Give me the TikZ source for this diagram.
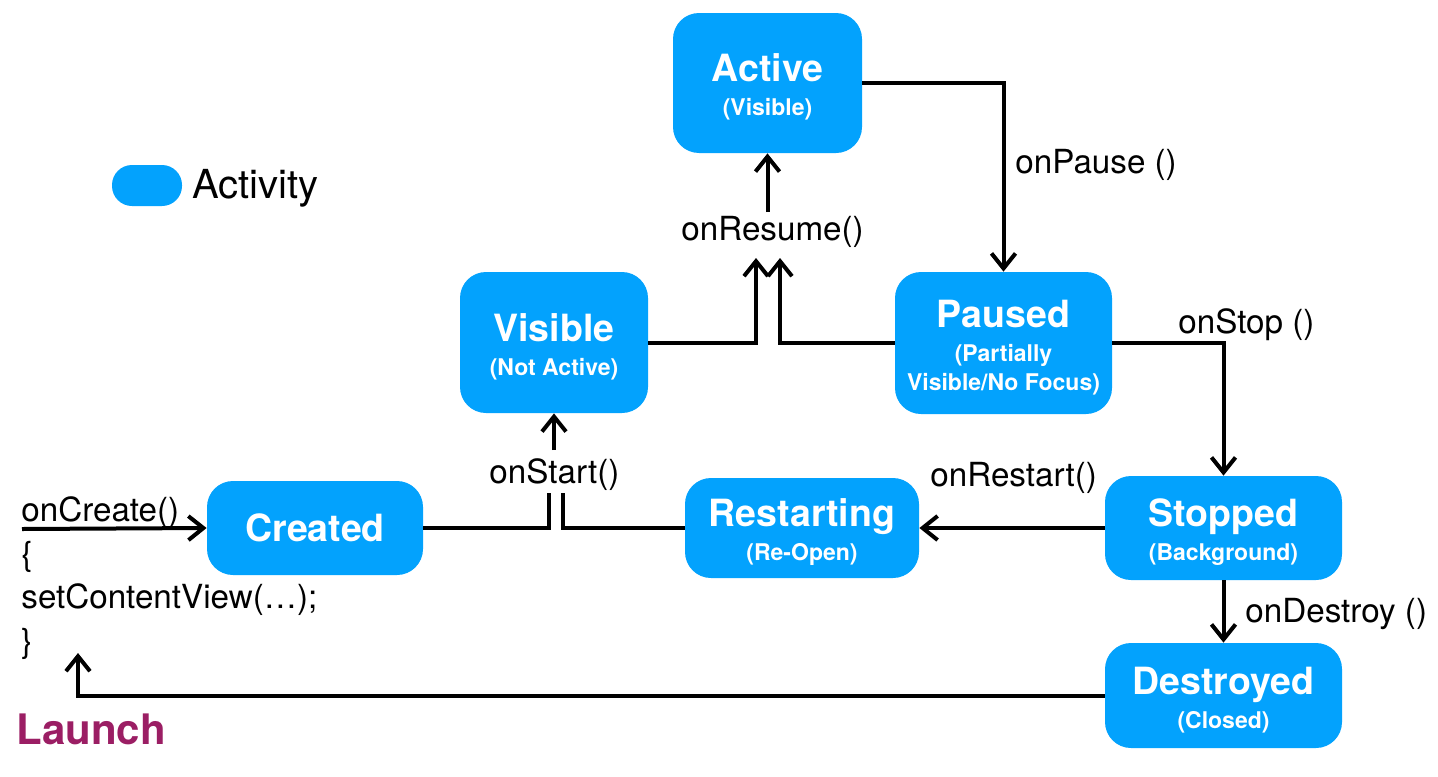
\documentclass[tikz,border=0pt]{standalone}
\usepackage{fontspec}
\setmainfont{TeX Gyre Heros}
\usetikzlibrary{arrows.meta}
\definecolor{actblue}{RGB}{3,162,253}
\definecolor{launchpurple}{RGB}{155,30,100}
\newcommand{\ttlfont}{\fontsize{18.75}{20}\selectfont\bfseries\rule{0pt}{18pt}}
\newcommand{\subfnt}{\fontsize{11.5}{14.5}\selectfont\bfseries}
\tikzset{
  statebox/.style={fill=actblue, rounded corners=13pt, inner sep=0pt, text=white,
    align=center, font=\subfnt},
  lbl/.style={anchor=base west, inner sep=0pt, font=\fontsize{16.6}{18}\selectfont},
  arr/.style={line width=2pt, -{Straight Barb[length=7.5pt,width=12pt,line width=2pt]}},
  ln/.style={line width=2pt},
}
\begin{document}
\begin{tikzpicture}[x=0.5pt,y=-0.5pt]
\useasboundingbox (0,0) rectangle (1438,776);
% states
\node[statebox, minimum width=94.5pt, minimum height=70pt] (active) at (767.5,83)
  {{\ttlfont Active}\\[2.5pt](Visible)};
\node[statebox, minimum width=94pt, minimum height=70.5pt] (visible) at (554,342.5)
  {{\ttlfont Visible}\\[2.5pt](Not Active)};
\node[statebox, minimum width=108.5pt, minimum height=71pt] (paused) at (1003.5,343)
  {{\ttlfont Paused}\\[2.5pt](Partially\\Visible/No Focus)};
\node[statebox, minimum width=108pt, minimum height=47pt, font=\fontsize{18.75}{20}\selectfont\bfseries] (created) at (315,528)
  {Created};
\node[statebox, minimum width=117pt, minimum height=50pt] (restarting) at (802,528)
  {{\ttlfont Restarting}\\[2.5pt](Re-Open)};
\node[statebox, minimum width=118.5pt, minimum height=52pt] (stopped) at (1223.5,528)
  {{\ttlfont Stopped}\\[2.5pt](Background)};
\node[statebox, minimum width=118.5pt, minimum height=52.5pt] (destroyed) at (1223.5,695.5)
  {{\ttlfont Destroyed}\\[2.5pt](Closed)};
% legend
\node[fill=actblue, rounded corners=10pt, minimum width=35pt, minimum height=20.5pt, inner sep=0pt] (legend) at (147,185.5) {};
\node[anchor=base west, inner sep=0pt, font=\fontsize{20}{22}\selectfont] (legendtext) at (192,198) {Activity};
% labels
\node[lbl] (lpause) at (1015,173) {onPause ()};
\node[lbl] (lresume) at (681,240) {onResume()};
\node[lbl] (lstop) at (1178,333) {onStop ()};
\node[lbl] (lstart) at (489,483) {onStart()};
\node[lbl] (lrestart) at (930,486) {onRestart()};
\node[lbl] (ldestroy) at (1245,622) {onDestroy ()};
\node[lbl] (c1) at (21,521) {onCreate()};
\node[lbl] (c2) at (21,565) {\{};
\node[lbl] (c3) at (21,608) {setContentView(…);};
\node[lbl] (c4) at (21,652) {\}};
\node[anchor=base west, inner sep=0pt, text=launchpurple, font=\fontsize{21}{22}\selectfont\bfseries] (launch) at (16,744) {Launch};
% coordinates
\coordinate (cstart) at (22,529);
\coordinate (launchend) at (78,653);
\coordinate (startL) at (549,493);
\coordinate (startR) at (563,493);
\coordinate (startA) at (554,450);
\coordinate (resL) at (756,258);
\coordinate (resR) at (780,258);
\coordinate (resA) at (767.5,212);
% connectors
\draw[arr] (active.east) -| (paused.north);
\draw[arr] (paused.east) -| (stopped.north);
\draw[arr] (stopped.west) -- (restarting.east);
\draw[arr] (stopped.south) -- (destroyed.north);
\draw[arr] (destroyed.west) -| (launchend);
\draw[arr] (cstart) -- (created.west);
\draw[ln] (created.east) -| (startL);
\draw[ln] (restarting.west) -| (startR);
\draw[arr] (startA) -- (visible.south);
\draw[arr] (visible.east) -| (resL);
\draw[arr] (paused.west) -| (resR);
\draw[arr] (resA) -- (active.south);
\end{tikzpicture}
\end{document}
